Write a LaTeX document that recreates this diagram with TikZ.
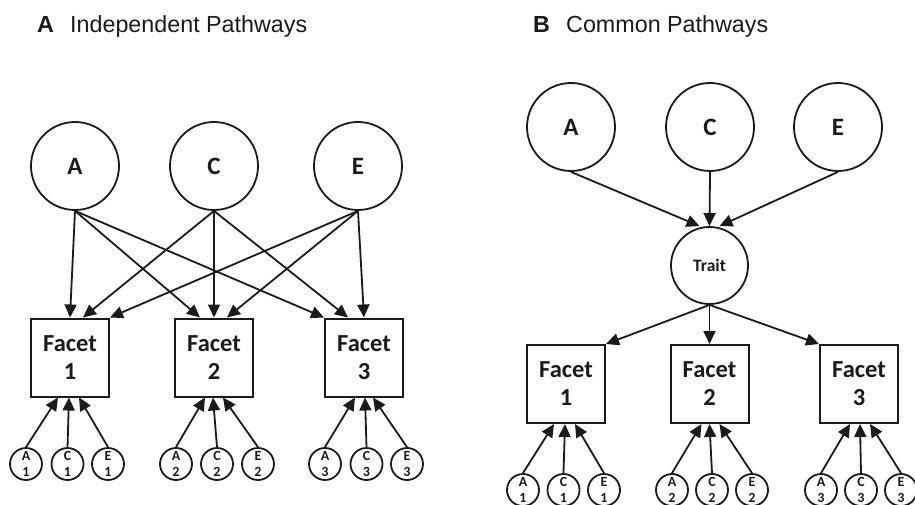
\documentclass[tikz,border=0pt]{standalone}
\usepackage{fontspec}
\setmainfont{Liberation Sans}
\newfontfamily\calib{Carlito}
\usetikzlibrary{arrows.meta}
\definecolor{ink}{HTML}{1A1A1A}
\begin{document}
\begin{tikzpicture}[x=1pt,y=-1pt,
  big/.style={circle,draw=ink,line width=1.8pt,minimum size=88pt,inner sep=0pt,font=\calib\bfseries\fontsize{25}{26}\selectfont,text=ink},
  traitc/.style={circle,draw=ink,line width=1.8pt,minimum size=77pt,inner sep=0pt,font=\calib\bfseries\fontsize{17.5}{20}\selectfont,text=ink},
  facet/.style={rectangle,draw=ink,line width=2pt,minimum width=78pt,minimum height=78pt,inner sep=0pt,align=center,font=\calib\bfseries\fontsize{24.5}{28}\selectfont,text=ink},
  small/.style={circle,draw=ink,line width=1.8pt,minimum size=32pt,inner sep=0pt,align=center,font=\calib\bfseries\fontsize{14}{16}\selectfont,text=ink},
  arr/.style={draw=ink,line width=1.8pt,-{Triangle[length=13pt,width=12pt]}},
  title/.style={anchor=base west,inner sep=0pt,font=\fontsize{23.3}{26}\selectfont,text=ink}
]
\useasboundingbox (0,0) rectangle (915,505);
\clip (0,0) rectangle (915,505);

% Titles
\node[title,font=\bfseries\fontsize{23.3}{26}\selectfont] (tA) at (37,33) {A};
\node[title] (tAt) at (70,33) {Independent Pathways};
\node[title,font=\bfseries\fontsize{23.3}{26}\selectfont] (tB) at (533,33) {B};
\node[title] (tBt) at (566,33) {Common Pathways};

% ---------- Panel A ----------
\node[big] (aA) at (75,166) {A};
\node[big] (aC) at (214,166) {C};
\node[big] (aE) at (358,166) {E};

\node[facet] (af1) at (70,357.5) {Facet\\1};
\node[facet] (af2) at (214,357.5) {Facet\\2};
\node[facet] (af3) at (364,357.5) {Facet\\3};

\draw[arr] (aA.south) -- (af1.north);
\draw[arr] (aA.south) -- ([xshift=-14pt]af2.north);
\draw[arr] (aA.south) -- (af3.north west);
\draw[arr] (aC.south) -- ([xshift=13pt]af1.north);
\draw[arr] (aC.south) -- (af2.north);
\draw[arr] (aC.south) -- ([xshift=-16pt]af3.north);
\draw[arr] (aE.south) -- (af1.north east);
\draw[arr] (aE.south) -- ([xshift=13pt]af2.north);
\draw[arr] (aE.south) -- (af3.north);

\node[small] (aa1) at (26,464) {A\\1};
\node[small] (ac1) at (67.5,464) {C\\1};
\node[small] (ae1) at (108,464) {E\\1};
\node[small] (aa2) at (176,464) {A\\2};
\node[small] (ac2) at (217,464) {C\\2};
\node[small] (ae2) at (258,464) {E\\2};
\node[small] (aa3) at (325,464) {A\\3};
\node[small] (ac3) at (366.5,464) {C\\3};
\node[small] (ae3) at (407,464) {E\\3};

\draw[arr] (aa1.north) -- ([xshift=-12pt]af1.south);
\draw[arr] (ac1.north) -- ([xshift=-1pt]af1.south);
\draw[arr] (ae1.north) -- ([xshift=9pt]af1.south);
\draw[arr] (aa2.north) -- ([xshift=-9pt]af2.south);
\draw[arr] (ac2.north) -- ([xshift=-1pt]af2.south);
\draw[arr] (ae2.north) -- ([xshift=9pt]af2.south);
\draw[arr] (aa3.north) -- ([xshift=-9pt]af3.south);
\draw[arr] (ac3.north) -- ([xshift=1pt]af3.south);
\draw[arr] (ae3.north) -- ([xshift=9pt]af3.south);

% ---------- Panel B ----------
\node[big] (bA) at (571,127) {A};
\node[big] (bC) at (710,127) {C};
\node[big] (bE) at (838,127) {E};
\node[traitc] (bT) at (709.5,265.5) {Trait};

\draw[arr] (bA.south) -- ([xshift=-10pt]bT.north);
\draw[arr] (bC.south) -- (bT.north);
\draw[arr] (bE.south) -- ([xshift=10pt]bT.north);

\node[facet] (bf1) at (566,384) {Facet\\1};
\node[facet] (bf2) at (709.5,384) {Facet\\2};
\node[facet] (bf3) at (859,384) {Facet\\3};

\draw[arr] (bT.south) -- (bf1.north east);
\draw[arr] (bT.south) -- (bf2.north);
\draw[arr] (bT.south) -- (bf3.north west);

\node[small] (ba1) at (523,490) {A\\1};
\node[small] (bc1) at (563.5,490) {C\\1};
\node[small] (be1) at (604,490) {E\\1};
\node[small] (ba2) at (672,490) {A\\2};
\node[small] (bc2) at (712,490) {C\\2};
\node[small] (be2) at (752,490) {E\\2};
\node[small] (ba3) at (821,490) {A\\3};
\node[small] (bc3) at (861,490) {C\\3};
\node[small] (be3) at (901,490) {E\\3};

\draw[arr] (ba1.north) -- ([xshift=-12pt]bf1.south);
\draw[arr] (bc1.north) -- ([xshift=-1pt]bf1.south);
\draw[arr] (be1.north) -- ([xshift=9pt]bf1.south);
\draw[arr] (ba2.north) -- ([xshift=-8pt]bf2.south);
\draw[arr] (bc2.north) -- ([xshift=0pt]bf2.south);
\draw[arr] (be2.north) -- ([xshift=10pt]bf2.south);
\draw[arr] (ba3.north) -- ([xshift=-9pt]bf3.south);
\draw[arr] (bc3.north) -- ([xshift=1pt]bf3.south);
\draw[arr] (be3.north) -- ([xshift=11pt]bf3.south);
\end{tikzpicture}
\end{document}
